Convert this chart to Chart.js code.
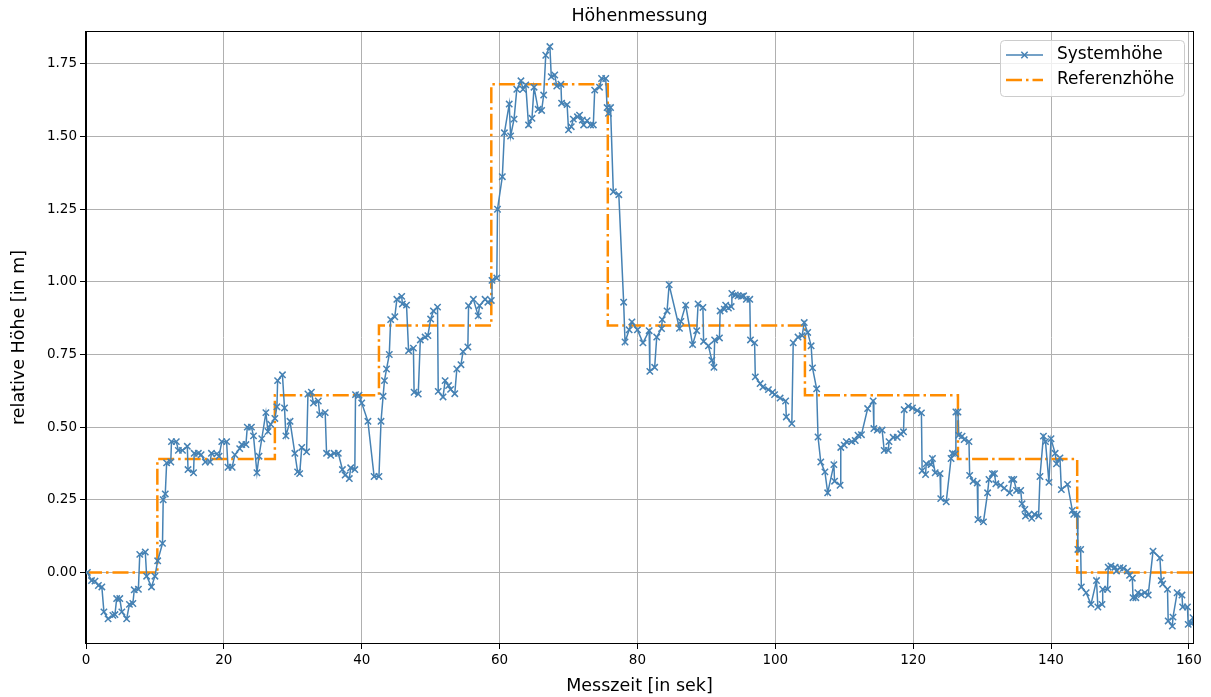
<!DOCTYPE html>
<html>
<head>
<meta charset="utf-8">
<script src="https://cdn.jsdelivr.net/npm/chart.js@4.4.1/dist/chart.umd.min.js"></script>
<style>
  html, body { margin: 0; padding: 0; background: #fff; }
  canvas { display: block; }
</style>
</head>
<body>
<canvas id="chart" width="1211" height="697"></canvas>
<script>
// Messzeit in Sekunden und gemessene Systemhöhe in Metern
const sysTimes = [
  0.2, 0.8, 1.3, 1.8, 2.3, 2.6, 3.2, 3.9, 4.2, 4.45, 4.9, 5.2, 5.9, 6.3, 6.8, 7.0, 7.6, 7.8, 8.6, 8.8,
  9.5, 10.0, 10.4, 11.1, 11.2, 11.5, 11.7, 12.3, 12.4, 13.1, 13.4, 14.0, 14.7, 14.8, 15.6, 15.7, 16.3, 16.7, 17.3, 18.0,
  18.2, 19.0, 19.3, 19.7, 20.4, 20.6, 21.2, 21.6, 22.3, 22.6, 23.2, 23.4, 24.0, 24.3, 24.8, 25.1, 25.5, 26.1, 26.4, 26.8,
  27.4, 27.7, 27.8, 28.5, 28.8, 29.0, 29.6, 30.3, 30.7, 31.0, 31.3, 32.0, 32.2, 32.7, 33.0, 33.7, 33.9, 34.7, 34.9, 35.5,
  36.0, 36.6, 37.2, 37.6, 38.2, 38.4, 39.0, 39.1, 39.6, 40.0, 40.9, 41.8, 42.5, 42.8, 43.1, 43.3, 43.6, 44.0, 44.2, 44.8,
  45.1, 45.8, 45.9, 46.5, 46.8, 47.5, 47.6, 48.2, 48.5, 49.2, 49.6, 50.0, 50.4, 51.0, 51.1, 51.8, 52.1, 52.6, 52.9, 53.5,
  53.8, 54.4, 54.7, 55.4, 55.5, 56.2, 56.9, 57.1, 57.9, 58.3, 58.8, 58.9, 59.6, 59.7, 60.4, 60.7, 61.4, 61.6, 62.1, 62.5,
  63.1, 63.4, 63.8, 64.2, 64.7, 65.0, 65.6, 66.1, 66.4, 66.7, 67.3, 67.5, 68.0, 68.3, 68.9, 69.0, 69.8, 70.0, 70.4, 70.7,
  71.3, 71.6, 72.0, 72.2, 72.7, 73.2, 73.6, 73.8, 74.5, 74.8, 75.4, 75.6, 75.8, 76.1, 76.5, 77.3, 78.0, 78.2, 78.8, 79.2,
  80.0, 80.8, 81.7, 81.8, 82.5, 82.8, 83.5, 83.6, 84.3, 84.6, 86.1, 86.3, 87.0, 88.0, 88.6, 88.8, 89.5, 89.6, 90.3, 90.8,
  91.1, 91.2, 91.9, 92.0, 92.6, 92.8, 93.2, 93.6, 93.7, 94.2, 94.6, 95.1, 95.4, 95.8, 96.3, 96.4, 97.0, 97.1, 97.8, 98.2,
  99.0, 99.6, 99.9, 100.7, 101.5, 101.6, 102.4, 102.6, 103.3, 103.9, 104.2, 104.7, 105.2, 105.4, 106.0, 106.2, 106.6, 107.2, 107.6, 108.5,
  108.6, 109.4, 109.5, 110.0, 110.3, 111.1, 111.6, 112.0, 112.5, 113.4, 114.2, 114.3, 114.8, 115.5, 115.8, 116.4, 116.5, 117.1, 117.7, 118.2,
  118.6, 118.7, 119.3, 119.9, 120.6, 121.2, 121.3, 121.8, 121.9, 122.6, 122.8, 123.2, 123.9, 124.0, 124.8, 125.5, 125.7, 126.1, 126.2, 126.5,
  126.6, 127.1, 127.4, 128.1, 128.2, 128.7, 129.3, 129.4, 130.2, 130.8, 131.0, 131.5, 131.8, 132.0, 132.7, 133.2, 134.0, 134.3, 134.6, 135.0,
  135.6, 135.8, 136.2, 136.3, 136.8, 137.2, 137.6, 138.2, 138.4, 138.9, 139.2, 139.7, 140.0, 140.6, 140.8, 141.3, 141.5, 142.4, 143.1, 143.3,
  143.8, 143.9, 144.3, 144.4, 145.1, 145.8, 146.6, 146.8, 147.4, 147.5, 148.2, 148.3, 148.7, 149.3, 149.5, 150.0, 150.5, 151.1, 151.4, 151.8,
  151.9, 152.3, 152.6, 153.1, 153.6, 154.1, 154.8, 155.8, 156.0, 156.2, 156.9, 157.0, 157.6, 157.7, 158.3, 159.0, 159.1, 159.8, 159.9, 160.4,
  160.6
];
const sysHeights = [
  0.0, -0.028, -0.03, -0.045, -0.05, -0.136, -0.16, -0.148, -0.145, -0.09, -0.09, -0.136, -0.16, -0.11, -0.107, -0.06, -0.058, 0.062, 0.07, -0.013,
  -0.05, -0.013, 0.04, 0.1, 0.25, 0.27, 0.377, 0.38, 0.45, 0.45, 0.42, 0.42, 0.434, 0.354, 0.343, 0.41, 0.41, 0.405, 0.38, 0.38,
  0.41, 0.408, 0.4, 0.45, 0.45, 0.362, 0.362, 0.405, 0.426, 0.44, 0.44, 0.5, 0.5, 0.47, 0.343, 0.4, 0.46, 0.55, 0.485, 0.51,
  0.53, 0.57, 0.66, 0.68, 0.566, 0.47, 0.52, 0.41, 0.346, 0.34, 0.43, 0.415, 0.614, 0.62, 0.583, 0.59, 0.543, 0.55, 0.41, 0.403,
  0.41, 0.41, 0.354, 0.335, 0.323, 0.36, 0.354, 0.612, 0.61, 0.583, 0.52, 0.33, 0.33, 0.52, 0.606, 0.66, 0.7, 0.75, 0.87, 0.88,
  0.94, 0.95, 0.924, 0.92, 0.763, 0.772, 0.62, 0.614, 0.8, 0.81, 0.815, 0.872, 0.9, 0.913, 0.623, 0.604, 0.66, 0.643, 0.63, 0.615,
  0.7, 0.715, 0.76, 0.776, 0.918, 0.94, 0.883, 0.918, 0.94, 0.93, 0.936, 1.005, 1.013, 1.25, 1.362, 1.513, 1.612, 1.502, 1.56, 1.663,
  1.692, 1.663, 1.678, 1.54, 1.563, 1.67, 1.594, 1.59, 1.643, 1.78, 1.81, 1.706, 1.712, 1.674, 1.68, 1.615, 1.61, 1.523, 1.534, 1.56,
  1.568, 1.574, 1.557, 1.54, 1.555, 1.54, 1.54, 1.66, 1.67, 1.7, 1.7, 1.6, 1.58, 1.6, 1.31, 1.3, 0.93, 0.793, 0.835, 0.862,
  0.835, 0.79, 0.832, 0.692, 0.706, 0.81, 0.839, 0.87, 0.9, 0.99, 0.84, 0.864, 0.92, 0.784, 0.832, 0.924, 0.912, 0.795, 0.78, 0.73,
  0.706, 0.8, 0.807, 0.9, 0.906, 0.92, 0.91, 0.915, 0.96, 0.955, 0.952, 0.95, 0.952, 0.94, 0.94, 0.8, 0.79, 0.673, 0.65, 0.638,
  0.629, 0.62, 0.612, 0.6, 0.59, 0.535, 0.512, 0.79, 0.81, 0.815, 0.86, 0.826, 0.78, 0.704, 0.632, 0.466, 0.38, 0.346, 0.274, 0.371,
  0.314, 0.3, 0.43, 0.438, 0.45, 0.45, 0.454, 0.472, 0.474, 0.564, 0.59, 0.495, 0.49, 0.49, 0.42, 0.42, 0.45, 0.465, 0.465, 0.477,
  0.484, 0.56, 0.572, 0.566, 0.557, 0.549, 0.35, 0.337, 0.374, 0.371, 0.392, 0.343, 0.34, 0.254, 0.243, 0.392, 0.41, 0.408, 0.552, 0.552,
  0.472, 0.469, 0.457, 0.45, 0.334, 0.314, 0.308, 0.182, 0.174, 0.274, 0.32, 0.34, 0.34, 0.305, 0.3, 0.29, 0.274, 0.32, 0.32, 0.282,
  0.282, 0.236, 0.217, 0.194, 0.2, 0.186, 0.2, 0.194, 0.33, 0.469, 0.45, 0.31, 0.46, 0.41, 0.374, 0.394, 0.285, 0.303, 0.213, 0.2,
  0.2, 0.079, 0.079, -0.05, -0.07, -0.11, -0.028, -0.119, -0.11, -0.058, -0.058, 0.018, 0.022, 0.018, 0.005, 0.016, 0.014, 0.005, -0.01, -0.02,
  -0.087, -0.087, -0.07, -0.076, -0.07, -0.078, 0.073, 0.05, -0.028, -0.04, -0.058, -0.167, -0.185, -0.154, -0.07, -0.078, -0.119, -0.119, -0.179, -0.176,
  -0.156
];

// Referenzhöhe: Beginn jeder Stufe und ihr Niveau
const refStarts = [0, 10.35, 27.4, 42.5, 58.8, 75.7, 104.3, 126.5, 143.8, 160.6];
const refLevels = [0, 0.39, 0.61, 0.85, 1.68, 0.85, 0.61, 0.39, 0, 0];

const xTickValues = [0, 20, 40, 60, 80, 100, 120, 140, 160];
const yTickValues = [0, 0.25, 0.5, 0.75, 1.0, 1.25, 1.5, 1.75];

const BLUE = '#4682b4';
const ORANGE = '#ff8c00';
const FONT = "'DejaVu Sans', sans-serif";
const REF_DASH = [16, 4, 2.5, 4];

Chart.defaults.font.family = FONT;
Chart.defaults.color = '#000';

// Rahmen, Titel und Legende im Stil von matplotlib
const decorations = {
  id: 'decorations',
  afterDraw(chart) {
    const { ctx, chartArea: a } = chart;
    ctx.save();

    ctx.strokeStyle = '#000';
    ctx.lineWidth = 1;
    ctx.strokeRect(a.left - 0.5, a.top - 0.5, a.right - a.left + 1, a.bottom - a.top + 1);

    ctx.fillStyle = '#000';
    ctx.font = '17.5px ' + FONT;
    ctx.textAlign = 'center';
    ctx.textBaseline = 'middle';
    ctx.fillText('Höhenmessung', (a.left + a.right) / 2, 16);

    // Legende
    const bx = 1000.5, by = 40.5, bw = 184, bh = 56, r = 4;
    ctx.beginPath();
    ctx.moveTo(bx + r, by);
    ctx.arcTo(bx + bw, by, bx + bw, by + bh, r);
    ctx.arcTo(bx + bw, by + bh, bx, by + bh, r);
    ctx.arcTo(bx, by + bh, bx, by, r);
    ctx.arcTo(bx, by, bx + bw, by, r);
    ctx.closePath();
    ctx.fillStyle = 'rgba(255,255,255,0.8)';
    ctx.fill();
    ctx.strokeStyle = '#cccccc';
    ctx.stroke();

    const x0 = 1006, x1 = 1043, y1 = 55, y2 = 80;
    ctx.lineWidth = 1.5;
    ctx.strokeStyle = BLUE;
    ctx.beginPath();
    ctx.moveTo(x0, y1);
    ctx.lineTo(x1, y1);
    ctx.stroke();
    const m = 3.2, cx = (x0 + x1) / 2;
    ctx.beginPath();
    ctx.moveTo(cx - m, y1 - m); ctx.lineTo(cx + m, y1 + m);
    ctx.moveTo(cx + m, y1 - m); ctx.lineTo(cx - m, y1 + m);
    ctx.stroke();

    ctx.lineWidth = 2.5;
    ctx.strokeStyle = ORANGE;
    ctx.setLineDash(REF_DASH);
    ctx.beginPath();
    ctx.moveTo(x0, y2);
    ctx.lineTo(x1, y2);
    ctx.stroke();
    ctx.setLineDash([]);

    ctx.fillStyle = '#000';
    ctx.font = '17px ' + FONT;
    ctx.textAlign = 'left';
    ctx.fillText('Systemhöhe', 1057, y1);
    ctx.fillText('Referenzhöhe', 1057, y2);

    ctx.restore();
  }
};

new Chart(document.getElementById('chart'), {
  type: 'scatter',
  data: {
    datasets: [
      {
        label: 'Systemhöhe',
        data: sysTimes.map((t, i) => ({ x: t, y: sysHeights[i] })),
        showLine: true,
        borderColor: BLUE,
        backgroundColor: BLUE,
        borderWidth: 1.5,
        pointStyle: 'crossRot',
        pointRadius: 4.5,
        pointBorderWidth: 1.5,
        pointBorderColor: BLUE,
        tension: 0
      },
      {
        label: 'Referenzhöhe',
        data: refStarts.map((t, i) => ({ x: t, y: refLevels[i] })),
        showLine: true,
        stepped: 'before',
        borderColor: ORANGE,
        backgroundColor: ORANGE,
        borderWidth: 2.5,
        borderDash: REF_DASH,
        borderCapStyle: 'butt',
        pointRadius: 0
      }
    ]
  },
  options: {
    responsive: false,
    animation: false,
    devicePixelRatio: 1,
    layout: { padding: { left: 0, right: 18, top: 32, bottom: 0 } },
    plugins: {
      legend: { display: false },
      title: { display: false },
      tooltip: { enabled: false }
    },
    scales: {
      x: {
        type: 'linear',
        min: 0,
        max: 160.6,
        afterFit: s => { s.height = 54; },
        afterBuildTicks: s => { s.ticks = xTickValues.map(v => ({ value: v })); },
        grid: { color: '#b0b0b0', lineWidth: 1, tickColor: '#000', tickLength: 6 },
        border: { display: true, color: '#000', width: 1 },
        ticks: { font: { size: 13.5 }, padding: 3, maxRotation: 0, callback: v => String(v) },
        title: { display: true, text: 'Messzeit [in sek]', font: { size: 17.5 }, padding: { top: 0, bottom: 0 } }
      },
      y: {
        type: 'linear',
        min: -0.243,
        max: 1.86,
        afterFit: s => { s.width = 86; },
        afterBuildTicks: s => { s.ticks = yTickValues.map(v => ({ value: v })); },
        grid: { color: '#b0b0b0', lineWidth: 1, tickColor: '#000', tickLength: 6 },
        border: { display: true, color: '#000', width: 1 },
        ticks: { font: { size: 13.5 }, padding: 3, callback: v => v.toFixed(2) },
        title: { display: true, text: 'relative Höhe [in m]', font: { size: 17.5 }, padding: { top: 9, bottom: 0 } }
      }
    }
  },
  plugins: [decorations]
});
</script>
</body>
</html>
